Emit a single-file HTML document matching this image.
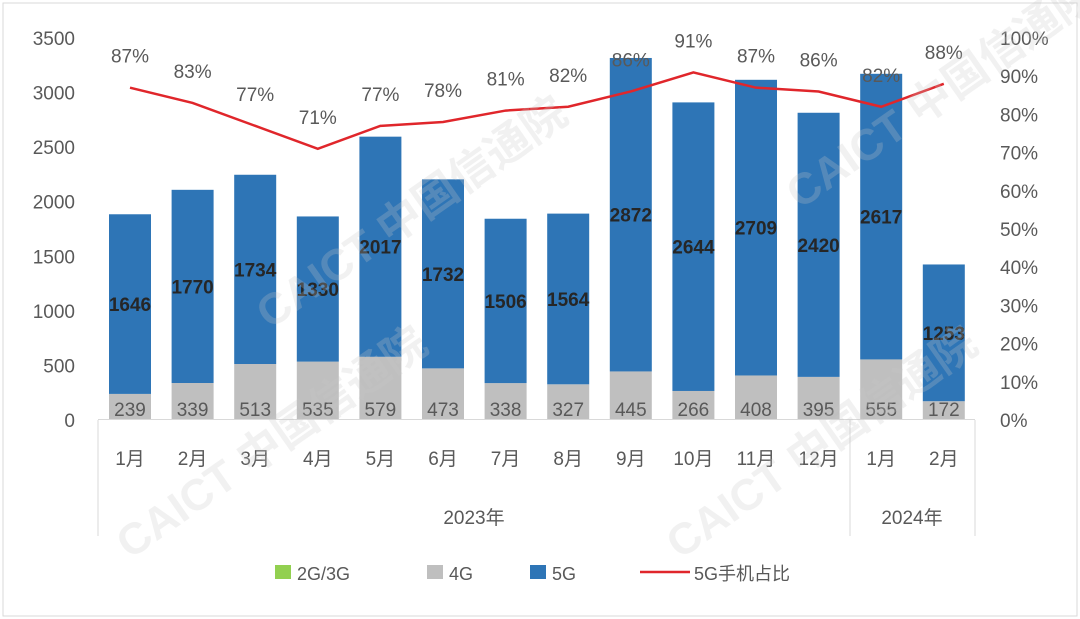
<!DOCTYPE html>
<html><head><meta charset="utf-8"><style>
body{margin:0;background:#fff;}
svg{display:block;font-family:"Liberation Sans","Noto Sans CJK SC",sans-serif;}
</style></head><body>
<svg id="s" width="1080" height="619" viewBox="0 0 1080 619" xmlns="http://www.w3.org/2000/svg">
<rect x="0" y="0" width="1080" height="619" fill="#fff"/>
<rect x="3" y="3" width="1074" height="613" fill="none" stroke="#d9d9d9" stroke-width="1"/>
<g id="g"></g>
</svg>
<script>
var g=document.getElementById('g');var h='';
var y0=420,k=382/3500;
for(var i=0;i<=7;i++){var v=i*500,y=y0-v*k;
h+='<text x="75" y="'+(y+7)+'" font-size="19" fill="#595959" text-anchor="end">'+v+'</text>';
h+='<text x="1000" y="'+(y+7)+'" font-size="19" fill="#595959">'+(i==0?'0':'')+(i>0?(i*10+(i==7?'':'')):'')+'%</text>';}
// right axis 0..100 in 11 ticks
h='';
for(var i=0;i<=7;i++){var v=i*500,y=y0-v*k;h+='<text x="75" y="'+(y+7)+'" font-size="19" fill="#595959" text-anchor="end">'+v+'</text>';}
for(var i=0;i<=10;i++){var y=y0-i*38.2;h+='<text x="1000" y="'+(y+7)+'" font-size="19" fill="#595959">'+(i*10)+'%</text>';}
var g4=[239,339,513,535,579,473,338,327,445,266,408,395,555,172];
var g5=[1646,1770,1734,1330,2017,1732,1506,1564,2872,2644,2709,2420,2617,1253];
var p=[87,83,77,71,77,78,81,82,86,91,87,86,82,88];
var m=['1月','2月','3月','4月','5月','6月','7月','8月','9月','10月','11月','12月','1月','2月'];
var pts=[];
for(var i=0;i<14;i++){var cx=130+i*62.6,bw=42;
var y4=y0-g4[i]*k,y5=y4-g5[i]*k;
h+='<rect x="'+(cx-bw/2)+'" y="'+y4+'" width="'+bw+'" height="'+(y0-y4)+'" fill="#bfbfbf"/>';
h+='<rect x="'+(cx-bw/2)+'" y="'+y5+'" width="'+bw+'" height="'+(y4-y5)+'" fill="#2e75b6"/>';
h+='<text x="'+cx+'" y="'+(y0-4)+'" font-size="19" fill="#595959" text-anchor="middle">'+g4[i]+'</text>';
h+='<text x="'+cx+'" y="'+((y4+y5)/2+7)+'" font-size="19" font-weight="bold" fill="#262626" text-anchor="middle">'+g5[i]+'</text>';
var py=y0-p[i]*3.82;pts.push(cx+','+py);
h+='<text x="'+cx+'" y="'+(py-25)+'" font-size="19" fill="#595959" text-anchor="middle">'+p[i]+'%</text>';
h+='<text x="'+cx+'" y="465" font-size="19" fill="#595959" text-anchor="middle">'+m[i]+'</text>';}
h+='<polyline points="'+pts.join(' ')+'" fill="none" stroke="#e0262b" stroke-width="2.5"/>';
h+='<line x1="98" y1="419.5" x2="975" y2="419.5" stroke="#d9d9d9"/>';
h+='<line x1="98" y1="420" x2="98" y2="536" stroke="#d9d9d9"/>';
h+='<line x1="850" y1="420" x2="850" y2="536" stroke="#d9d9d9"/>';
h+='<line x1="975" y1="420" x2="975" y2="536" stroke="#d9d9d9"/>';
h+='<text x="474" y="524" font-size="19" fill="#595959" text-anchor="middle">2023年</text>';
h+='<text x="912" y="524" font-size="19" fill="#595959" text-anchor="middle">2024年</text>';
h+='<rect x="275" y="565" width="16" height="14" fill="#92d050"/><text x="297" y="580" font-size="18" fill="#595959">2G/3G</text>';
h+='<rect x="427" y="565" width="16" height="14" fill="#bfbfbf"/><text x="449" y="580" font-size="18" fill="#595959">4G</text>';
h+='<rect x="530" y="565" width="16" height="14" fill="#2e75b6"/><text x="552" y="580" font-size="18" fill="#595959">5G</text>';
h+='<line x1="640" y1="572" x2="690" y2="572" stroke="#e0262b" stroke-width="2.5"/><text x="694" y="580" font-size="18" fill="#595959">5G手机占比</text>';
// faint watermarks
var wm=[[270,330],[800,210],[130,560],[680,560]];
for(var j=0;j<wm.length;j++)h+='<text x="'+wm[j][0]+'" y="'+wm[j][1]+'" font-size="44" font-weight="bold" fill="#c8c8c8" fill-opacity="0.25" transform="rotate(-35 '+wm[j][0]+' '+wm[j][1]+')">CAICT 中国信通院</text>';
g.innerHTML=h;
</script>
</body></html>
